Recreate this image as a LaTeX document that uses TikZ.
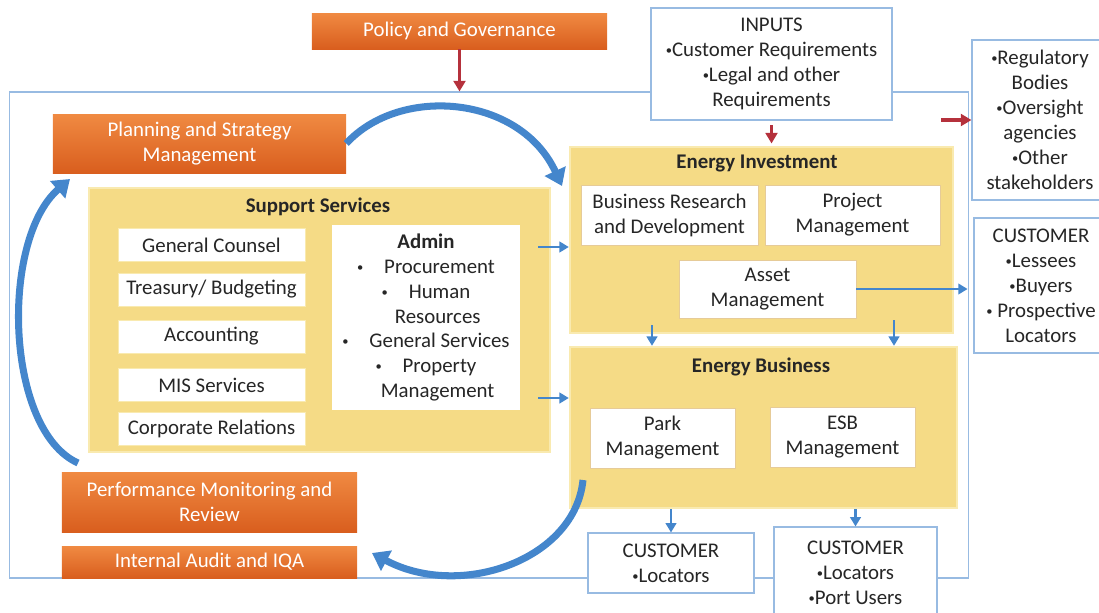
\documentclass[tikz,border=0pt]{standalone}
\usepackage{fontspec}
\usepackage{graphicx}
\setmainfont{Carlito}
\usetikzlibrary{arrows.meta}
\definecolor{ink}{HTML}{262626}
\definecolor{orangetop}{HTML}{F08A42}
\definecolor{orangebot}{HTML}{D95E1E}
\definecolor{sand}{HTML}{F5DB86}
\definecolor{sandedge}{HTML}{F9EAB0}
\definecolor{tan}{HTML}{E6CB98}
\definecolor{sky}{HTML}{98BBE2}
\definecolor{flow}{HTML}{4486CC}
\definecolor{wine}{HTML}{B5313C}
\newcommand{\bul}{\raisebox{0.2ex}{\scalebox{0.6}{•}}}
\tikzset{
  txt/.style={text=ink, font=\fontsize{17.8}{21.3}\selectfont, align=center, inner sep=0pt},
  orangebox/.style={txt, text=white, top color=orangetop, bottom color=orangebot, draw=none},
  yellowbox/.style={fill=sand, draw=sandedge, line width=2pt},
  whitebox/.style={txt, fill=white, draw=tan, line width=0.6pt},
  sidebox/.style={txt, fill=white, draw=sandedge, line width=0.6pt, minimum width=5.61cm, minimum height=0.99cm},
  custbox/.style={txt, fill=white, draw=sky, line width=0.9pt},
  framebox/.style={draw=sky, line width=0.9pt},
  title/.style={txt, font=\fontsize{17.8}{21.3}\selectfont\bfseries},
  redarrow/.style={draw=wine, line width=3pt, -{Triangle[width=10pt,length=9pt]}},
  bluearrow/.style={draw=flow, line width=2.4pt, -{Triangle[width=9pt,length=8pt]}},
  curvearrow/.style={draw=flow, line width=6pt, -{Triangle[width=19pt,length=14pt]}},
}
\begin{document}
\begin{tikzpicture}[x=0.03cm, y=-0.03cm]
  \useasboundingbox (0,0) rectangle (1099,612);
  \clip (0,0) rectangle (1099,612);
  % outer frame
  \node[framebox, minimum width=28.77cm, minimum height=14.58cm] (frame) at (489,335) {};
  % yellow groups
  \node[yellowbox, minimum width=13.83cm, minimum height=7.92cm] (supp) at (319.5,320) {};
  \node[yellowbox, minimum width=11.49cm, minimum height=5.58cm] (inv) at (761.5,240) {};
  \node[yellowbox, minimum width=11.61cm, minimum height=4.83cm] (bus) at (763.5,427.5) {};
  \node[title] (suppT) at (318,207) {Support Services};
  \node[title] (invT) at (757,164) {Energy Investment};
  \node[title] (busT) at (761,367) {Energy Business};
  % support services
  \foreach \n/\y/\t in {gc/245/General Counsel, tb/289.5/{Treasury/ Budgeting}, acc/336.5/Accounting, mis/385/MIS Services, cr/429/Corporate Relations}
    \node[sidebox] (\n) at (211.5,\y) {\t};
  \node[whitebox, draw=none, minimum width=5.64cm, minimum height=5.55cm] (admin) at (426,317.5)
    {\textbf{Admin}\\\bul\quad Procurement\\\bul\quad Human\\\hspace*{0.7cm}Resources\\\bul\quad General Services\\\bul\quad Property\\\hspace*{0.7cm}Management};
  % energy units
  \node[whitebox, minimum width=5.31cm, minimum height=1.8cm] (brd) at (669.5,215) {Business Research\\and Development};
  \node[whitebox, minimum width=5.25cm, minimum height=1.8cm] (proj) at (852.5,215) {Project\\Management};
  \node[whitebox, minimum width=5.31cm, minimum height=1.74cm] (asset) at (767.5,289) {Asset\\Management};
  \node[whitebox, minimum width=4.35cm, minimum height=1.8cm] (park) at (662.5,438) {Park\\Management};
  \node[whitebox, minimum width=4.35cm, minimum height=1.8cm] (esb) at (842.5,437) {ESB\\Management};
  % management boxes
  \node[orangebox, minimum width=8.85cm, minimum height=1.08cm] (pol) at (459.5,31) {Policy and Governance};
  \node[orangebox, minimum width=8.79cm, minimum height=1.77cm] (plan) at (199.5,143.5) {Planning and Strategy\\Management};
  \node[orangebox, minimum width=8.85cm, minimum height=1.8cm] (perf) at (209.5,502) {Performance Monitoring and\\Review};
  \node[orangebox, minimum width=8.85cm, minimum height=0.96cm] (audit) at (209.5,562) {Internal Audit and IQA};
  % inputs and customers
  \node[custbox, minimum width=7.23cm, minimum height=3.36cm] (inputs) at (771.5,64) {INPUTS\\\bul Customer Requirements\\\bul Legal and other\\Requirements};
  \node[custbox, minimum width=4.08cm, minimum height=4.8cm] (reg) at (1040,120) {\bul Regulatory\\Bodies\\\bul Oversight\\agencies\\\bul Other\\stakeholders};
  \node[custbox, minimum width=4.02cm, minimum height=4.05cm] (custR) at (1041,285.5) {CUSTOMER\\\bul Lessees\\\bul Buyers\\\bul\ Prospective\\Locators};
  \node[custbox, minimum width=4.98cm, minimum height=1.8cm] (cust1) at (671,563) {CUSTOMER\\\bul Locators};
  \node[custbox, minimum width=4.89cm, minimum height=2.76cm] (cust2) at (855.5,573) {CUSTOMER\\\bul Locators\\\bul Port Users};
  % arrows
  \coordinate (a1) at (538,247);
  \coordinate (a2) at (538,398);
  \coordinate (d1) at (652,325);
  \coordinate (d2) at (894,320);
  \coordinate (regin) at (941,120);
  \draw[redarrow] (pol.south) -- (pol.south |- frame.north);
  \draw[redarrow, shorten <=4pt, shorten >=2pt] (inputs.south) -- (inputs.south |- inv.north);
  \draw[redarrow] (regin) -- (reg.west);
  \draw[bluearrow] (a1) -- (a1 -| inv.west);
  \draw[bluearrow] (a2) -- (a2 -| bus.west);
  \draw[bluearrow, shorten >=5pt] (asset.east) -- (asset.east -| custR.west);
  \draw[bluearrow] (d1) -- (d1 |- bus.north);
  \draw[bluearrow] (d2) -- (d2 |- bus.north);
  \draw[bluearrow] (cust1.north |- bus.south) -- (cust1.north);
  \draw[bluearrow] (cust2.north |- bus.south) -- (cust2.north);
  % cycle arrows
  \coordinate (c1e) at (562,186);
  \coordinate (c2s) at (583,480);
  \coordinate (c2e) at (372,553);
  \coordinate (c3s) at (78,463);
  \coordinate (c3e) at (70,179);
  \draw[curvearrow] (plan.east) .. controls (400,85) and (520,95) .. (c1e);
  \draw[curvearrow] (c2s) .. controls (575,560) and (460,600) .. (c2e);
  \draw[curvearrow] (c3s) .. controls (5,430) and (0,240) .. (c3e);
\end{tikzpicture}
\end{document}
